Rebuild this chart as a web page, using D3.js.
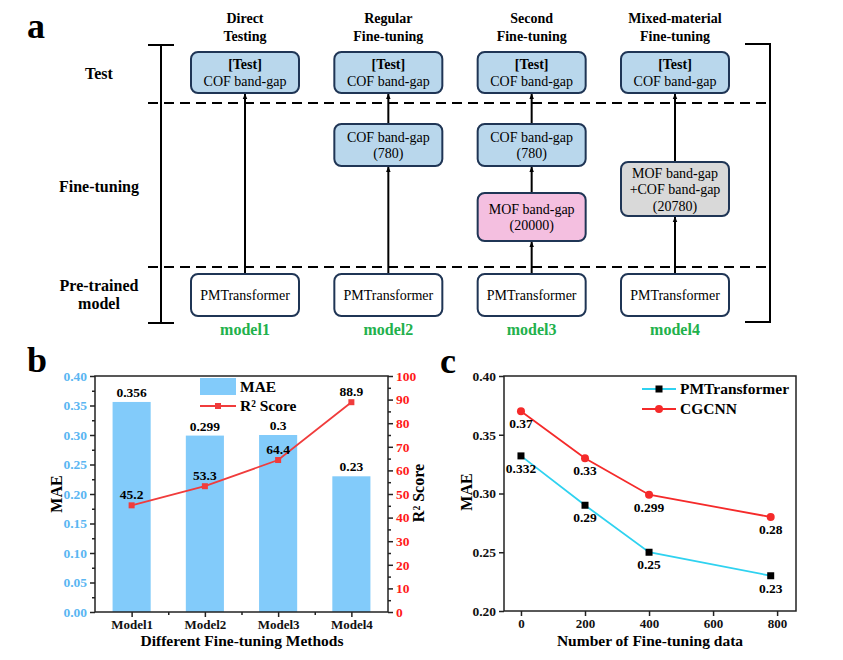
<!DOCTYPE html>
<html>
<head>
<meta charset="utf-8">
<script src="https://cdn.jsdelivr.net/npm/d3@7"></script>
<style>
  body { margin: 0; background: #fff; }
  svg text { font-family: "Liberation Serif", "DejaVu Serif", "Noto Serif", serif !important; }
</style>
</head>
<body>
<div id="vis"><svg></svg></div>
<script>
// ---- data ----
var columnTitles = [["Direct", "Testing"], ["Regular", "Fine-tuning"], ["Second", "Fine-tuning"], ["Mixed-material", "Fine-tuning"]];
var modelNames = ["model1", "model2", "model3", "model4"];
var rowLabels = [["Test"], ["Fine-tuning"], ["Pre-trained", "model"]];
// boxes per column, bottom to top: [row, lines, kind]
var flowBoxes = [
  [["pre", ["PMTransformer"], "white"], ["test", ["[Test]", "COF band-gap"], "blue"]],
  [["pre", ["PMTransformer"], "white"], ["ft1", ["COF band-gap", "(780)"], "blue"], ["test", ["[Test]", "COF band-gap"], "blue"]],
  [["pre", ["PMTransformer"], "white"], ["ft2", ["MOF band-gap", "(20000)"], "pink"], ["ft1", ["COF band-gap", "(780)"], "blue"], ["test", ["[Test]", "COF band-gap"], "blue"]],
  [["pre", ["PMTransformer"], "white"], ["mix", ["MOF band-gap", "+COF band-gap", "(20780)"], "grey"], ["test", ["[Test]", "COF band-gap"], "blue"]]
];

var methods = ["Model1", "Model2", "Model3", "Model4"];
var maeValues = [0.356, 0.299, 0.3, 0.23];
var r2Values = [45.2, 53.3, 64.4, 88.9];
var maeTicks = [0, 0.05, 0.1, 0.15, 0.2, 0.25, 0.3, 0.35, 0.4];
var r2Ticks = [0, 10, 20, 30, 40, 50, 60, 70, 80, 90, 100];

var dataSizes = [0, 200, 400, 780];
var pmtMAE = [0.332, 0.29, 0.25, 0.23];
var cgcnnMAE = [0.37, 0.33, 0.299, 0.28];
var sizeTicks = [0, 200, 400, 600, 800];
var maeTicksC = [0.2, 0.25, 0.3, 0.35, 0.4];

var svg = d3.select("#vis").select("svg")
    .attr("width", 843)
    .attr("height", 660)
    .attr("font-family", "Liberation Serif, DejaVu Serif, serif");

svg.append("rect").attr("width", 843).attr("height", 660).attr("fill", "#fff");

// panel letters
[["a", 27, 38], ["b", 27, 372], ["c", 440, 373]].forEach(function(p) {
  svg.append("text").attr("x", p[1]).attr("y", p[2]).text(p[0])
    .style("font-size", "36px").style("font-weight", "bold");
});

// ================= panel a =================
var a = svg.append("g");
var colX = d3.scalePoint().domain(modelNames).range([245, 675]);
var rowBox = {test: [52, 93], ft1: [124, 166], ft2: [193, 241], mix: [162, 216], pre: [274, 316]};
var fills = {blue: "#b9d7ec", pink: "#f4bfe0", grey: "#d9d9d9", white: "#ffffff"};
var boxW = 108;

a.append("defs").append("marker")
    .attr("id", "arr").attr("viewBox", "0 0 10 10")
    .attr("refX", 9).attr("refY", 5)
    .attr("markerWidth", 3).attr("markerHeight", 3)
    .attr("orient", "auto")
  .append("path").attr("d", "M0,1 L10,5 L0,9 Z").attr("fill", "#000");

// left bracket
a.append("line").attr("x1", 161).attr("x2", 161).attr("y1", 45).attr("y2", 323).attr("stroke", "#000").attr("stroke-width", 2);
[45, 323].forEach(function(y) {
  a.append("line").attr("x1", 148).attr("x2", 174).attr("y1", y).attr("y2", y).attr("stroke", "#000").attr("stroke-width", 2);
});
// right bracket
a.append("path").attr("d", "M745,44 H770 V322 H745").attr("fill", "none").attr("stroke", "#000").attr("stroke-width", 2);
// dashed separators
[103, 267].forEach(function(y) {
  a.append("line").attr("x1", 148).attr("x2", 770).attr("y1", y).attr("y2", y)
    .attr("stroke", "#000").attr("stroke-width", 2).attr("stroke-dasharray", "10,6");
});

// row labels
var rowY = [[79], [192], [291, 309]];
rowLabels.forEach(function(lines, i) {
  lines.forEach(function(t, j) {
    a.append("text").attr("x", 99).attr("y", rowY[i][j]).attr("text-anchor", "middle")
      .text(t).style("font-size", "16px").style("font-weight", "bold");
  });
});

// column titles
columnTitles.forEach(function(lines, i) {
  lines.forEach(function(t, j) {
    a.append("text").attr("x", colX(modelNames[i])).attr("y", 23 + j * 18).attr("text-anchor", "middle")
      .text(t).style("font-size", "14px").style("font-weight", "bold");
  });
});

// boxes and arrows
flowBoxes.forEach(function(col, i) {
  var cx = colX(modelNames[i]);
  col.forEach(function(b, k) {
    var yy = rowBox[b[0]];
    if (k > 0) {
      var prev = rowBox[col[k - 1][0]];
      a.append("line").attr("x1", cx).attr("x2", cx).attr("y1", prev[0]).attr("y2", yy[1] + 1)
        .attr("stroke", "#000").attr("stroke-width", 2).attr("marker-end", "url(#arr)");
    }
  });
  col.forEach(function(b) {
    var yy = rowBox[b[0]];
    a.append("rect").attr("x", cx - boxW / 2).attr("y", yy[0]).attr("width", boxW).attr("height", yy[1] - yy[0])
      .attr("rx", 7).attr("fill", fills[b[2]]).attr("stroke", "#1f3555").attr("stroke-width", 2);
    var n = b[1].length, mid = (yy[0] + yy[1]) / 2;
    b[1].forEach(function(t, j) {
      a.append("text").attr("x", cx).attr("y", mid + 5 + (j - (n - 1) / 2) * 16.5)
        .attr("text-anchor", "middle").text(t)
        .style("font-size", "14px").style("font-weight", t == "[Test]" ? "bold" : "normal");
    });
  });
  a.append("text").attr("x", cx).attr("y", 335).attr("text-anchor", "middle").text(modelNames[i])
    .style("font-size", "16px").style("font-weight", "bold").style("fill", "#22b14c");
});

// ================= panel b =================
var bL = 95, bR = 388, bT = 376, bB = 612;
var gb = svg.append("g");
var xb = d3.scaleBand().domain(methods).range([bL, bR]).paddingInner(0.48).paddingOuter(0.24);
var yb = d3.scaleLinear().domain([0, 0.4]).range([bB, bT]);
var yr = d3.scaleLinear().domain([0, 100]).range([bB, bT]);
var barColor = "#82cbfa", lineRed = "#f03c3c";

gb.selectAll(".bar").data(maeValues).enter().append("rect")
  .attr("x", function(d, i) { return xb(methods[i]); })
  .attr("y", function(d) { return yb(d); })
  .attr("width", xb.bandwidth())
  .attr("height", function(d) { return bB - yb(d); })
  .attr("fill", barColor);

gb.selectAll(".barlab").data(maeValues).enter().append("text")
  .attr("x", function(d, i) { return xb(methods[i]) + xb.bandwidth() / 2; })
  .attr("y", function(d) { return yb(d) - 5; })
  .attr("text-anchor", "middle").text(function(d) { return d; })
  .style("font-size", "13.5px").style("font-weight", "bold");

var r2Line = d3.line()
  .x(function(d, i) { return xb(methods[i]) + xb.bandwidth() / 2; })
  .y(function(d) { return yr(d); });
gb.append("path").attr("d", r2Line(r2Values)).attr("fill", "none").attr("stroke", lineRed).attr("stroke-width", 1.8);
gb.selectAll(".r2pt").data(r2Values).enter().append("rect")
  .attr("x", function(d, i) { return xb(methods[i]) + xb.bandwidth() / 2 - 3; })
  .attr("y", function(d) { return yr(d) - 3; })
  .attr("width", 6).attr("height", 6).attr("fill", lineRed);
gb.selectAll(".r2lab").data(r2Values).enter().append("text")
  .attr("x", function(d, i) { return xb(methods[i]) + xb.bandwidth() / 2; })
  .attr("y", function(d) { return yr(d) - 6; })
  .attr("text-anchor", "middle").text(function(d) { return d; })
  .style("font-size", "13.5px").style("font-weight", "bold");

// frame
gb.append("rect").attr("x", bL).attr("y", bT).attr("width", bR - bL).attr("height", bB - bT)
  .attr("fill", "none").attr("stroke", "#222").attr("stroke-width", 1.5);

// left axis
var axL = gb.append("g").attr("transform", "translate(" + bL + ",0)")
  .call(d3.axisLeft(yb).tickValues(maeTicks).tickSize(5).tickFormat(d3.format(".2f")));
gb.append("g").attr("transform", "translate(" + bL + ",0)")
  .call(d3.axisLeft(yb).tickValues(d3.range(0.025, 0.4, 0.05)).tickSize(3).tickFormat(""));
// right axis
var axR = gb.append("g").attr("transform", "translate(" + bR + ",0)")
  .call(d3.axisRight(yr).tickValues(r2Ticks).tickSize(5));
gb.append("g").attr("transform", "translate(" + bR + ",0)")
  .call(d3.axisRight(yr).tickValues(d3.range(5, 100, 10)).tickSize(3).tickFormat(""));
// bottom axis
var xCenters = d3.scalePoint().domain(methods).range([xb(methods[0]) + xb.bandwidth() / 2, xb(methods[3]) + xb.bandwidth() / 2]);
var axB = gb.append("g").attr("transform", "translate(0," + bB + ")")
  .call(d3.axisBottom(xCenters).tickSize(5).tickPadding(3));
gb.append("g").attr("transform", "translate(0," + bB + ")")
  .call(d3.axisBottom(d3.scaleLinear().domain([0, 4]).range([xb(methods[0]) - xb.step() * 0.24, xb(methods[3]) + xb.bandwidth() + xb.step() * 0.24]))
    .tickValues([1, 2, 3]).tickSize(3).tickFormat(""));

gb.selectAll(".domain").remove();
gb.selectAll(".tick line").attr("stroke", "#222").attr("stroke-width", 1.5);
axL.selectAll(".tick text").style("fill", "#5ab6f2").style("font-size", "13.5px").style("font-weight", "bold");
axR.selectAll(".tick text").style("fill", "#ff1a1a").style("font-size", "13.5px").style("font-weight", "bold");
axB.selectAll(".tick text").style("fill", "#111").style("font-size", "13px").style("font-weight", "bold");

// legend b
gb.append("rect").attr("x", 200).attr("y", 378).attr("width", 36).attr("height", 17).attr("fill", barColor);
gb.append("text").attr("x", 240).attr("y", 392).text("MAE").style("font-size", "15.5px").style("font-weight", "bold");
gb.append("line").attr("x1", 200).attr("x2", 236).attr("y1", 406).attr("y2", 406).attr("stroke", lineRed).attr("stroke-width", 1.8);
gb.append("rect").attr("x", 215).attr("y", 403).attr("width", 6).attr("height", 6).attr("fill", lineRed);
gb.append("text").attr("x", 240).attr("y", 411).text("R² Score").style("font-size", "15.5px").style("font-weight", "bold");

// axis titles b
gb.append("text").attr("transform", "translate(62,494) rotate(-90)").attr("text-anchor", "middle")
  .text("MAE").style("font-size", "16px").style("font-weight", "bold");
gb.append("text").attr("transform", "translate(424,493) rotate(-90)").attr("text-anchor", "middle")
  .text("R² Score").style("font-size", "16px").style("font-weight", "bold");
gb.append("text").attr("x", 242).attr("y", 646).attr("text-anchor", "middle")
  .text("Different Fine-tuning Methods").style("font-size", "15.5px").style("font-weight", "bold");

// ================= panel c =================
var cL = 504, cR = 796, cT = 376, cB = 611;
var gc = svg.append("g");
var xc = d3.scaleLinear().domain([-53, 859]).range([cL, cR]);
var yc = d3.scaleLinear().domain([0.2, 0.4]).range([cB, cT]);
var cyan = "#2fd2f0", red = "#f52a2a";

var lineC = d3.line()
  .x(function(d, i) { return xc(dataSizes[i]); })
  .y(function(d) { return yc(d); });

gc.append("path").attr("d", lineC(cgcnnMAE)).attr("fill", "none").attr("stroke", red).attr("stroke-width", 1.8);
gc.append("path").attr("d", lineC(pmtMAE)).attr("fill", "none").attr("stroke", cyan).attr("stroke-width", 1.8);

gc.selectAll(".cg").data(cgcnnMAE).enter().append("circle")
  .attr("cx", function(d, i) { return xc(dataSizes[i]); })
  .attr("cy", function(d) { return yc(d); })
  .attr("r", 4).attr("fill", red);
gc.selectAll(".pm").data(pmtMAE).enter().append("rect")
  .attr("x", function(d, i) { return xc(dataSizes[i]) - 3.5; })
  .attr("y", function(d) { return yc(d) - 3.5; })
  .attr("width", 7).attr("height", 7).attr("fill", "#000");

[cgcnnMAE, pmtMAE].forEach(function(series) {
  gc.selectAll(null).data(series).enter().append("text")
    .attr("x", function(d, i) { return xc(dataSizes[i]); })
    .attr("y", function(d) { return yc(d) + 17; })
    .attr("text-anchor", "middle").text(function(d) { return d; })
    .style("font-size", "13.5px").style("font-weight", "bold");
});

gc.append("rect").attr("x", cL).attr("y", cT).attr("width", cR - cL).attr("height", cB - cT)
  .attr("fill", "none").attr("stroke", "#222").attr("stroke-width", 1.5);

var axCL = gc.append("g").attr("transform", "translate(" + cL + ",0)")
  .call(d3.axisLeft(yc).tickValues(maeTicksC).tickSize(5).tickFormat(d3.format(".2f")));
var axCB = gc.append("g").attr("transform", "translate(0," + cB + ")")
  .call(d3.axisBottom(xc).tickValues(sizeTicks).tickSize(5).tickPadding(3));
gc.selectAll(".domain").remove();
gc.selectAll(".tick line").attr("stroke", "#222").attr("stroke-width", 1.5);
gc.selectAll(".tick text").style("fill", "#111").style("font-size", "13.5px").style("font-weight", "bold");
axCB.selectAll(".tick text").style("font-size", "13px");

// legend c
gc.append("line").attr("x1", 642).attr("x2", 676).attr("y1", 389).attr("y2", 389).attr("stroke", cyan).attr("stroke-width", 1.8);
gc.append("rect").attr("x", 655.5).attr("y", 385.5).attr("width", 7).attr("height", 7).attr("fill", "#000");
gc.append("text").attr("x", 680).attr("y", 394).text("PMTransformer").style("font-size", "15.5px").style("font-weight", "bold");
gc.append("line").attr("x1", 642).attr("x2", 676).attr("y1", 409).attr("y2", 409).attr("stroke", red).attr("stroke-width", 1.8);
gc.append("circle").attr("cx", 659).attr("cy", 409).attr("r", 4).attr("fill", red);
gc.append("text").attr("x", 680).attr("y", 414).text("CGCNN").style("font-size", "15.5px").style("font-weight", "bold");

gc.append("text").attr("transform", "translate(472,492) rotate(-90)").attr("text-anchor", "middle")
  .text("MAE").style("font-size", "16px").style("font-weight", "bold");
gc.append("text").attr("x", 650).attr("y", 646).attr("text-anchor", "middle")
  .text("Number of Fine-tuning data").style("font-size", "15.5px").style("font-weight", "bold");
</script>
</body>
</html>
